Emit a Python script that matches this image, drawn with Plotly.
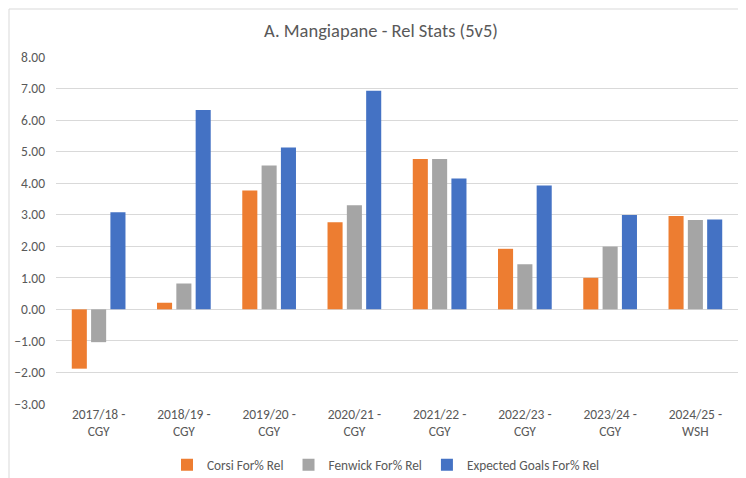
import plotly.graph_objects as go

categories = ["2017/18 -<br>CGY", "2018/19 -<br>CGY", "2019/20 -<br>CGY", "2020/21 -<br>CGY",
              "2021/22 -<br>CGY", "2022/23 -<br>CGY", "2023/24 -<br>CGY", "2024/25 -<br>WSH"]
corsi = [-1.88, 0.21, 3.77, 2.76, 4.77, 1.92, 1.00, 2.96]
fenwick = [-1.04, 0.82, 4.56, 3.30, 4.77, 1.43, 1.99, 2.83]
xgoals = [3.08, 6.32, 5.13, 6.93, 4.15, 3.93, 2.99, 2.85]
series_names = ["Corsi For% Rel", "Fenwick For% Rel", "Expected Goals For% Rel"]
colors = ["#ED7D31", "#A5A5A5", "#4472C4"]

FONT = "Carlito, Open Sans, sans-serif"
TXT = "#595959"
W, H = 746, 478
L, R, T, B = 48, 16, 49, 82
pw, ph = W - L - R, H - T - B

fig = go.Figure()
for name, vals, c in zip(series_names, [corsi, fenwick, xgoals], colors):
    fig.add_trace(go.Bar(x=categories, y=vals, name=name, marker_color=c, marker_line_width=0))

fig.update_layout(
    width=W, height=H,
    margin=dict(l=L, r=R, t=T, b=B, autoexpand=False),
    paper_bgcolor="white", plot_bgcolor="white",
    barmode="group", bargap=0.32, bargroupgap=0.22,
    title=dict(text="A. Mangiapane - Rel Stats (5v5)", x=0.5, xanchor="center",
               y=1 - 23 / H, yanchor="middle",
               font=dict(family=FONT, size=18.5, color=TXT)),
    font=dict(family=FONT, size=13.3, color=TXT),
    yaxis=dict(range=[-3, 8], dtick=1, tickformat=".2f", showgrid=True, automargin=False,
               gridcolor="#D9D9D9", gridwidth=1, zeroline=True, zerolinecolor="#D9D9D9",
               zerolinewidth=1, showline=False, ticks="", ticklabelstandoff=10,
               tickfont=dict(family=FONT, size=13.5, color=TXT)),
    xaxis=dict(showgrid=False, showline=False, ticks="", automargin=False,
               tickfont=dict(family=FONT, size=13.5, color=TXT)),
    legend=dict(orientation="h", x=(378 - L) / pw, xanchor="center", y=-(457 - (T + ph)) / ph,
                yanchor="middle", font=dict(family=FONT, size=13.3, color=TXT),
                itemwidth=30, traceorder="normal"),
    showlegend=True,
)

fig.add_shape(type="rect", xref="paper", yref="paper",
              x0=(1 - L) / pw, x1=(W - 2 - L) / pw,
              y0=-(H - 1 - (T + ph)) / ph, y1=1 + (T - 1) / ph,
              line=dict(color="#D9D9D9", width=1), fillcolor="rgba(0,0,0,0)", layer="below")

fig.write_html("out.html")
